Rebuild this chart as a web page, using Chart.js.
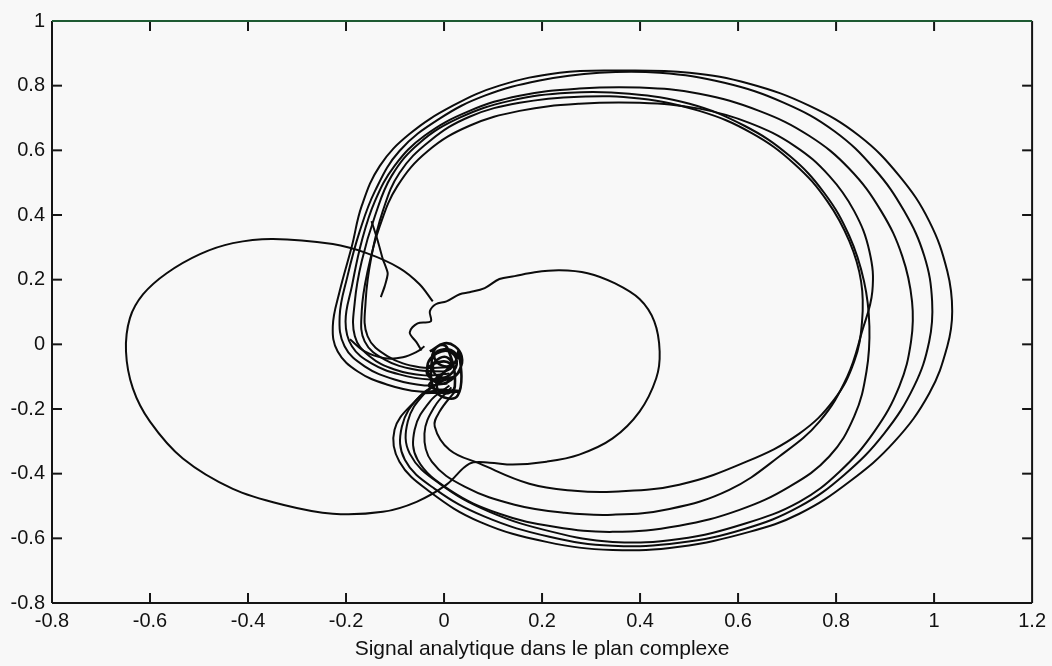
<!DOCTYPE html>
<html lang="fr">
<head>
<meta charset="UTF-8">
<title>Signal analytique dans le plan complexe</title>
<script src="https://cdn.jsdelivr.net/npm/chart.js"></script>
<style>
  * { margin: 0; padding: 0; box-sizing: border-box; }
  body { background: #f8f8f8; width: 1052px; height: 666px; overflow: hidden; }
  #plan { display: block; }
</style>
</head>
<body>
<canvas id="plan" width="1052" height="666"></canvas>
<script>
// graduations des axes
const xTicks = [-0.8, -0.6, -0.4, -0.2, 0, 0.2, 0.4, 0.6, 0.8, 1, 1.2];
const yTicks = [-0.8, -0.6, -0.4, -0.2, 0, 0.2, 0.4, 0.6, 0.8, 1];

// grande boucle de gauche puis petite boucle de droite (un seul trace)
const boucleGauche = [[-0.023,0.133],[-0.050,0.186],[-0.091,0.236],[-0.158,0.282],[-0.227,0.310],[-0.349,0.326],[-0.431,0.313],[-0.498,0.279],[-0.566,0.220],[-0.614,0.155],[-0.641,0.081],[-0.649,-0.022],[-0.635,-0.136],[-0.600,-0.239],[-0.533,-0.353],[-0.431,-0.447],[-0.329,-0.496],[-0.227,-0.524],[-0.125,-0.518],[-0.056,-0.487],[0.005,-0.434],[0.052,-0.369],[0.093,-0.366],[0.140,-0.372],[0.209,-0.363],[0.276,-0.341],[0.344,-0.291],[0.399,-0.208],[0.433,-0.105],[0.440,-0.022],[0.429,0.071],[0.399,0.140],[0.348,0.189],[0.293,0.220],[0.236,0.229],[0.185,0.223],[0.144,0.211],[0.113,0.202],[0.083,0.174],[0.052,0.161],[0.032,0.155],[0.005,0.133],[-0.017,0.124],[-0.029,0.102],[-0.027,0.071],[-0.054,0.065],[-0.070,0.037],[-0.056,0.006],[-0.046,-0.019]];

// petit arc sous le cercle central
const arcCentral = [[-0.192,0.016],[-0.162,-0.022],[-0.121,-0.043],[-0.084,-0.040],[-0.054,-0.022],[-0.040,-0.006]];

// les six grandes boucles, de l'exterieur vers l'interieur
const boucleA = [[-0.009,-0.115],[-0.060,-0.177],[-0.101,-0.264],[-0.091,-0.363],[-0.029,-0.456],[0.073,-0.549],[0.209,-0.611],[0.344,-0.636],[0.480,-0.626],[0.623,-0.580],[0.725,-0.524],[0.827,-0.425],[0.919,-0.301],[0.990,-0.152],[1.027,-0.006],[1.037,0.102],[1.027,0.226],[0.990,0.381],[0.929,0.521],[0.847,0.645],[0.745,0.738],[0.623,0.806],[0.501,0.840],[0.358,0.847],[0.236,0.840],[0.113,0.800],[0.018,0.738],[-0.070,0.651],[-0.131,0.552],[-0.168,0.428],[-0.188,0.304],[-0.213,0.164],[-0.227,0.056],[-0.217,-0.022],[-0.176,-0.084],[-0.117,-0.124],[-0.050,-0.146],[0.001,-0.140]];
const boucleB = [[0.001,-0.109],[-0.050,-0.161],[-0.086,-0.254],[-0.080,-0.357],[-0.019,-0.447],[0.083,-0.533],[0.215,-0.595],[0.344,-0.623],[0.480,-0.614],[0.613,-0.571],[0.725,-0.502],[0.817,-0.403],[0.898,-0.276],[0.959,-0.130],[0.990,0.009],[0.996,0.133],[0.980,0.273],[0.939,0.412],[0.878,0.543],[0.796,0.660],[0.694,0.747],[0.572,0.809],[0.440,0.840],[0.317,0.840],[0.195,0.816],[0.083,0.769],[-0.009,0.698],[-0.091,0.598],[-0.141,0.474],[-0.172,0.350],[-0.197,0.211],[-0.213,0.087],[-0.203,-0.006],[-0.162,-0.068],[-0.101,-0.109],[-0.040,-0.127],[0.007,-0.121]];
const boucleC = [[0.007,-0.102],[-0.040,-0.152],[-0.074,-0.239],[-0.070,-0.338],[-0.009,-0.431],[0.093,-0.518],[0.221,-0.580],[0.344,-0.611],[0.480,-0.602],[0.613,-0.555],[0.725,-0.487],[0.807,-0.394],[0.878,-0.270],[0.929,-0.130],[0.953,0.009],[0.955,0.133],[0.935,0.273],[0.892,0.412],[0.827,0.543],[0.745,0.645],[0.643,0.722],[0.521,0.775],[0.399,0.794],[0.276,0.791],[0.154,0.769],[0.052,0.722],[-0.040,0.645],[-0.101,0.552],[-0.141,0.443],[-0.168,0.319],[-0.188,0.180],[-0.201,0.071],[-0.188,-0.006],[-0.148,-0.059],[-0.091,-0.093],[-0.029,-0.109],[0.015,-0.102]];
const boucleD = [[0.011,-0.127],[-0.029,-0.177],[-0.060,-0.264],[-0.054,-0.357],[0.011,-0.450],[0.113,-0.524],[0.225,-0.564],[0.344,-0.580],[0.480,-0.561],[0.603,-0.512],[0.705,-0.440],[0.786,-0.347],[0.837,-0.223],[0.862,-0.084],[0.868,0.056],[0.857,0.195],[0.827,0.335],[0.776,0.468],[0.705,0.583],[0.613,0.676],[0.501,0.744],[0.378,0.775],[0.256,0.778],[0.134,0.753],[0.032,0.701],[-0.050,0.623],[-0.107,0.521],[-0.141,0.397],[-0.168,0.257],[-0.182,0.133],[-0.182,0.025],[-0.152,-0.037],[-0.101,-0.078],[-0.040,-0.096],[0.011,-0.090]];
const boucleE = [[0.015,-0.133],[-0.019,-0.192],[-0.040,-0.276],[-0.025,-0.363],[0.042,-0.440],[0.144,-0.496],[0.246,-0.521],[0.344,-0.527],[0.460,-0.509],[0.582,-0.450],[0.684,-0.347],[0.766,-0.239],[0.823,-0.099],[0.853,0.040],[0.874,0.164],[0.868,0.288],[0.837,0.412],[0.786,0.521],[0.715,0.614],[0.623,0.685],[0.521,0.729],[0.399,0.747],[0.276,0.744],[0.154,0.722],[0.052,0.676],[-0.033,0.598],[-0.095,0.490],[-0.131,0.366],[-0.156,0.226],[-0.168,0.102],[-0.162,0.009],[-0.121,-0.047],[-0.060,-0.078],[0.001,-0.084]];
const boucleF = [[0.022,-0.146],[-0.009,-0.208],[-0.019,-0.254],[0.011,-0.326],[0.073,-0.369],[0.174,-0.431],[0.266,-0.453],[0.344,-0.456],[0.480,-0.434],[0.617,-0.363],[0.725,-0.276],[0.796,-0.171],[0.837,-0.053],[0.853,0.071],[0.851,0.195],[0.827,0.319],[0.782,0.443],[0.715,0.558],[0.627,0.654],[0.521,0.722],[0.399,0.760],[0.276,0.766],[0.154,0.747],[0.052,0.704],[-0.029,0.629],[-0.091,0.530],[-0.125,0.412],[-0.148,0.273],[-0.160,0.133],[-0.156,0.025],[-0.115,-0.037],[-0.050,-0.071],[0.007,-0.071]];

// brin qui pend dans le faisceau de gauche
const brin = [[-0.148,0.381],[-0.135,0.319],[-0.125,0.264],[-0.115,0.220],[-0.121,0.180],[-0.129,0.146]];

// fouillis autour de l'origine
const fouillis = [[-0.029,-0.022],[0.001,0.003],[0.022,-0.006],[0.036,-0.037],[0.032,-0.078],[0.015,-0.109],[-0.009,-0.121],[-0.029,-0.099],[-0.033,-0.059],[-0.015,-0.028],[0.011,-0.022],[0.026,-0.053],[0.015,-0.090],[-0.009,-0.102],[-0.023,-0.071],[-0.009,-0.043],[0.009,-0.043],[0.015,-0.071],[-0.001,-0.087],[-0.015,-0.130],[0.001,-0.152],[0.022,-0.130],[0.007,-0.012],[-0.013,-0.006],[-0.025,-0.047],[-0.017,-0.146],[0.028,-0.158],[0.030,-0.020],[0.020,-0.060],[-0.005,-0.065],[-0.020,-0.035],[0.000,-0.015],[0.025,-0.030],[0.034,-0.070],[0.020,-0.100],[-0.020,-0.110],[-0.035,-0.080],[-0.010,-0.055],[0.012,-0.060],[0.005,-0.080],[-0.030,-0.130],[0.030,-0.145],[-0.040,-0.150]];

const traces = [
  { pts: boucleGauche, tension: 0.35, width: 2 },
  { pts: arcCentral, tension: 0.4, width: 2 },
  { pts: boucleA, tension: 0.4, width: 2 },
  { pts: boucleB, tension: 0.4, width: 2 },
  { pts: boucleC, tension: 0.4, width: 2 },
  { pts: boucleD, tension: 0.4, width: 2 },
  { pts: boucleE, tension: 0.4, width: 2 },
  { pts: boucleF, tension: 0.4, width: 2 },
  { pts: brin, tension: 0.2, width: 2 },
  { pts: fouillis, tension: 0.45, width: 2.6 }
];

const police = "'Liberation Sans', Arial, Helvetica, sans-serif";

// cadre complet et graduations tournees vers l'interieur
const cadre = {
  id: 'cadre',
  afterDraw(chart) {
    const { ctx, chartArea: a, scales } = chart;
    const trait = (x1, y1, x2, y2) => {
      ctx.beginPath(); ctx.moveTo(x1, y1); ctx.lineTo(x2, y2); ctx.stroke();
    };
    ctx.save();
    ctx.lineWidth = 2;
    ctx.strokeStyle = '#151515';
    trait(a.left, a.top, a.left, a.bottom);
    trait(a.left, a.bottom, a.right, a.bottom);
    trait(a.right, a.top, a.right, a.bottom);
    xTicks.slice(1, -1).forEach(v => {
      const px = scales.x.getPixelForValue(v);
      trait(px, a.bottom, px, a.bottom - 10);
      trait(px, a.top, px, a.top + 10);
    });
    yTicks.slice(1, -1).forEach(v => {
      const py = scales.y.getPixelForValue(v);
      trait(a.left, py, a.left + 10, py);
      trait(a.right, py, a.right - 10, py);
    });
    ctx.strokeStyle = '#1e5a32';
    trait(a.left, a.top, a.right, a.top);
    ctx.restore();
  }
};

new Chart(document.getElementById('plan'), {
  type: 'scatter',
  data: {
    datasets: traces.map(t => ({
      data: t.pts.map(([x, y]) => ({ x, y })),
      showLine: true,
      borderColor: '#0c0c0c',
      borderWidth: t.width,
      pointRadius: 0,
      pointHoverRadius: 0,
      tension: t.tension,
      fill: false
    }))
  },
  options: {
    responsive: false,
    animation: false,
    events: [],
    layout: { padding: { top: 21, right: 18, left: 0, bottom: 0 } },
    plugins: { legend: { display: false }, tooltip: { enabled: false } },
    scales: {
      x: {
        type: 'linear',
        min: -0.8,
        max: 1.2,
        afterBuildTicks: s => { s.ticks = xTicks.map(v => ({ value: v })); },
        afterFit: s => { s.height = 63; },
        grid: { display: false, drawTicks: false },
        border: { display: false },
        ticks: {
          autoSkip: false, maxRotation: 0, padding: 6, color: '#111',
          font: { family: police, size: 20 },
          callback: v => String(v)
        },
        title: {
          display: true,
          text: 'Signal analytique dans le plan complexe',
          color: '#111',
          font: { family: police, size: 21 },
          padding: { top: 0, bottom: 4 }
        }
      },
      y: {
        type: 'linear',
        min: -0.8,
        max: 1,
        afterBuildTicks: s => { s.ticks = yTicks.map(v => ({ value: v })); },
        afterFit: s => { s.width = 52; },
        grid: { display: false, drawTicks: false },
        border: { display: false },
        ticks: {
          autoSkip: false, padding: 7, color: '#111',
          font: { family: police, size: 20 },
          callback: v => String(v)
        }
      }
    }
  },
  plugins: [cadre]
});
</script>
</body>
</html>
